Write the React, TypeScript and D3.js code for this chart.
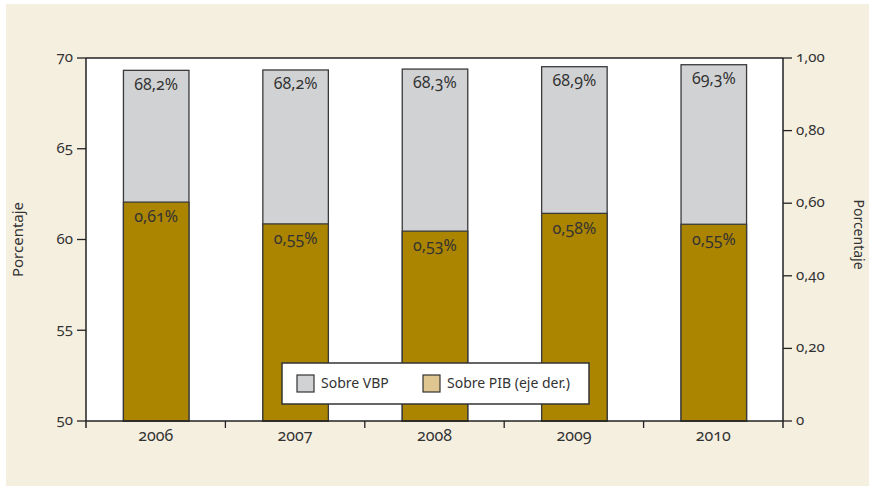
import React from "react";
import * as d3 from "d3";

const years = ["2006", "2007", "2008", "2009", "2010"];
// Heights of the gray bars as drawn (left axis)
const vbpBar = [69.32, 69.34, 69.39, 69.52, 69.63];
const vbpLabels = ["68,2%", "68,2%", "68,3%", "68,9%", "69,3%"];
// Heights of the gold bars as drawn (right axis)
const pibBar = [0.603, 0.543, 0.523, 0.572, 0.542];
const pibLabels = ["0,61%", "0,55%", "0,53%", "0,58%", "0,55%"];
const leftTicks = [50, 55, 60, 65, 70];
const rightTicks = [0, 0.2, 0.4, 0.6, 0.8, 1.0];
const rightTickLabels = ["0", "0,20", "0,40", "0,60", "0,80", "1,00"];

const W = 869;
const H = 486;
const m = { left: 86, right: 783, top: 58, bottom: 421 };
const font = "'Noto Sans', 'Open Sans', sans-serif";
const txt = "#333333";

export default function App() {
  const x = d3.scaleBand<string>().domain(years).range([m.left, m.right]).paddingInner(0).paddingOuter(0);
  const yL = d3.scaleLinear().domain([50, 70]).range([m.bottom, m.top]);
  const yR = d3.scaleLinear().domain([0, 1]).range([m.bottom, m.top]);
  const bw = x.bandwidth() * 0.47;
  const numStyle: React.CSSProperties = { fontVariantNumeric: "oldstyle-nums", fontFeatureSettings: "'onum'" };

  return (
    <svg width={W} height={H} style={{ position: "absolute", left: 0, top: 0, display: "block" }}
      fontFamily={font}>
      <rect x={6} y={4} width={W - 6} height={H - 4} fill="#f5efe0" />
      <rect x={m.left} y={m.top} width={m.right - m.left} height={m.bottom - m.top} fill="#ffffff" />
      {years.map((yr, i) => {
        const cx = (x(yr) as number) + x.bandwidth() / 2 + 0.5;
        const gTop = yL(vbpBar[i]);
        const pTop = yR(pibBar[i]);
        return (
          <g key={yr}>
            <rect x={cx - bw / 2} y={gTop} width={bw} height={m.bottom - gTop} fill="#d1d2d4" stroke="#3a3a3a" strokeWidth={1.3} />
            <rect x={cx - bw / 2} y={pTop} width={bw} height={m.bottom - pTop} fill="#ab8400" stroke="#3a3a3a" strokeWidth={1.3} />
            <text x={cx} y={gTop + 15} textAnchor="middle" dominantBaseline="middle" fontSize={16} fill={txt} style={numStyle}>{vbpLabels[i]}</text>
            <text x={cx} y={pTop + 16} textAnchor="middle" dominantBaseline="middle" fontSize={16} fill={txt} style={numStyle}>{pibLabels[i]}</text>
          </g>
        );
      })}
      {/* frame */}
      <line x1={m.left} x2={m.right} y1={m.top} y2={m.top} stroke="#222" strokeWidth={1.5} />
      <line x1={m.left} x2={m.right} y1={m.bottom} y2={m.bottom} stroke="#222" strokeWidth={1.5} />
      <line x1={m.left} x2={m.left} y1={m.top} y2={m.bottom + 7} stroke="#222" strokeWidth={1.5} />
      <line x1={m.right} x2={m.right} y1={m.top} y2={m.bottom + 7} stroke="#222" strokeWidth={1.5} />
      {/* left ticks */}
      {leftTicks.map((t) => (
        <g key={"l" + t}>
          <line x1={m.left - 9} x2={m.left} y1={yL(t)} y2={yL(t)} stroke="#222" strokeWidth={1.3} />
          <text x={m.left - 13} y={yL(t)} textAnchor="end" dominantBaseline="middle" fontSize={15} fill={txt} style={numStyle}>{t}</text>
        </g>
      ))}
      {/* right ticks */}
      {rightTicks.map((t, i) => (
        <g key={"r" + t}>
          <line x1={m.right} x2={m.right + 9} y1={yR(t)} y2={yR(t)} stroke="#222" strokeWidth={1.3} />
          <text x={m.right + 13} y={yR(t)} textAnchor="start" dominantBaseline="middle" fontSize={15} fill={txt} style={numStyle}>{rightTickLabels[i]}</text>
        </g>
      ))}
      {/* bottom ticks at band boundaries */}
      {years.slice(1).map((yr) => (
        <line key={"b" + yr} x1={x(yr) as number} x2={x(yr) as number} y1={m.bottom} y2={m.bottom + 7} stroke="#222" strokeWidth={1.3} />
      ))}
      {years.map((yr) => (
        <text key={"t" + yr} x={(x(yr) as number) + x.bandwidth() / 2} y={437} textAnchor="middle" dominantBaseline="middle" fontSize={16} fill={txt} style={numStyle}>{yr}</text>
      ))}
      {/* axis titles */}
      <text transform={`translate(19,${(m.top + m.bottom) / 2}) rotate(-90)`} textAnchor="middle" dominantBaseline="middle" fontSize={15} fill={txt}>Porcentaje</text>
      <text transform={`translate(858,${(m.top + m.bottom) / 2 - 5}) rotate(90)`} textAnchor="middle" dominantBaseline="middle" fontSize={14} fill={txt}>Porcentaje</text>
      {/* legend */}
      <rect x={282} y={363} width={307} height={41} fill="#ffffff" stroke="#333" strokeWidth={1.5} />
      <rect x={297} y={375} width={17} height={17} fill="#d1d2d4" stroke="#333" strokeWidth={1.2} />
      <text x={321} y={384} dominantBaseline="middle" fontSize={14} fill={txt}>Sobre VBP</text>
      <rect x={423} y={375} width={17} height={17} fill="#dfc690" stroke="#333" strokeWidth={1.2} />
      <text x={447} y={384} dominantBaseline="middle" fontSize={14} fill={txt}>Sobre PIB (eje der.)</text>
    </svg>
  );
}
